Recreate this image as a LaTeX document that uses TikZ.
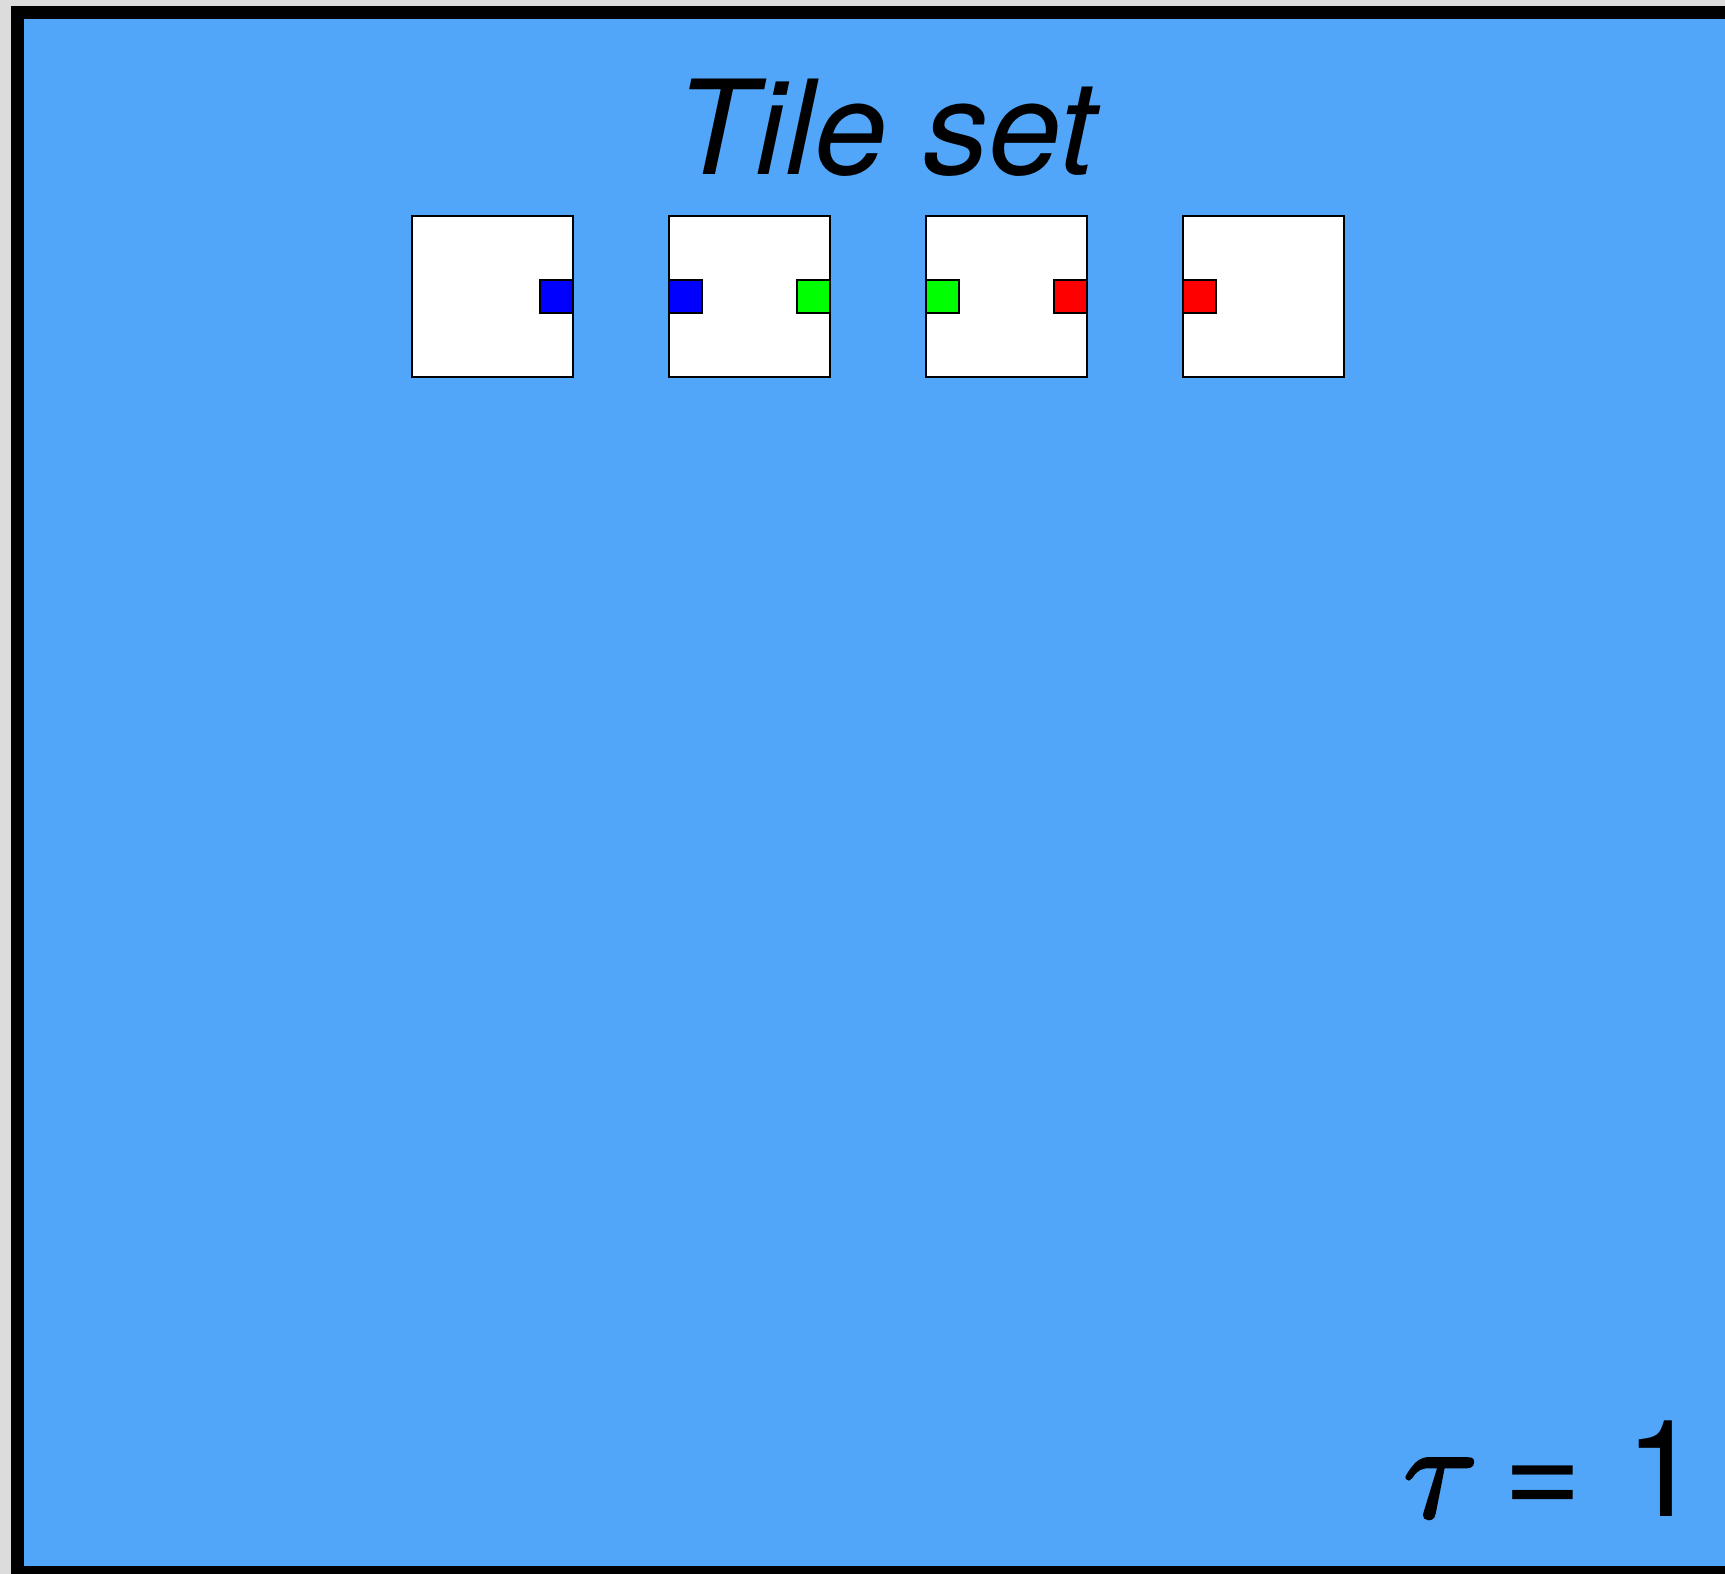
\documentclass[tikz,border=0pt]{standalone}
\usepackage{fontspec}
\setsansfont{TeX Gyre Heros}
\newfontfamily\greekmath[FakeBold=2.5]{Latin Modern Math}
\definecolor{panelblue}{RGB}{81,166,249}
\definecolor{margingray}{RGB}{220,220,220}
\definecolor{glueblue}{RGB}{0,0,255}
\definecolor{gluegreen}{RGB}{0,255,0}
\definecolor{gluered}{RGB}{255,0,0}
\tikzset{
  tile/.style={draw=black, fill=white, line width=2pt, minimum size=161pt,
    inner sep=0pt, outer sep=0pt},
  glue/.style={draw=black, line width=2pt, minimum size=33pt,
    inner sep=0pt, outer sep=0pt},
  bigtext/.style={inner sep=0pt, outer sep=0pt, anchor=base},
}
\begin{document}
\begin{tikzpicture}[x=1pt, y=-1pt]
\useasboundingbox (0,0) rectangle (1725,1574);
% page margin, black frame and blue panel
\fill[margingray] (0,0) rectangle (1725,1574);
\fill[black] (11,6) rectangle (1725,1574);
\fill[panelblue] (24,19) rectangle (1725,1566);

% title
\node[bigtext] (title) at (886,174)
  {\fontsize{131}{140}\selectfont\sffamily\itshape Tile set};

% the four tiles
\node[tile] (t1) at (492.5,296) {};
\node[tile] (t2) at (749.5,296) {};
\node[tile] (t3) at (1006.5,296) {};
\node[tile] (t4) at (1263.5,296) {};

% glues on the tile sides
\node[glue, fill=glueblue, anchor=east] (g1e) at (t1.east) {};
\node[glue, fill=glueblue, anchor=west] (g2w) at (t2.west) {};
\node[glue, fill=gluegreen, anchor=east] (g2e) at (t2.east) {};
\node[glue, fill=gluegreen, anchor=west] (g3w) at (t3.west) {};
\node[glue, fill=gluered, anchor=east] (g3e) at (t3.east) {};
\node[glue, fill=gluered, anchor=west] (g4w) at (t4.west) {};

% temperature
\node[bigtext] (tau) at (1433,1517)
  {\fontsize{135}{140}\selectfont\greekmath\symbol{"1D70F}};
\node[bigtext] (eq) at (1543,1516)
  {\fontsize{135}{140}\selectfont\sffamily =};
\node[bigtext] (one) at (1663,1516)
  {\fontsize{135}{140}\selectfont\sffamily 1};
\end{tikzpicture}
\end{document}
